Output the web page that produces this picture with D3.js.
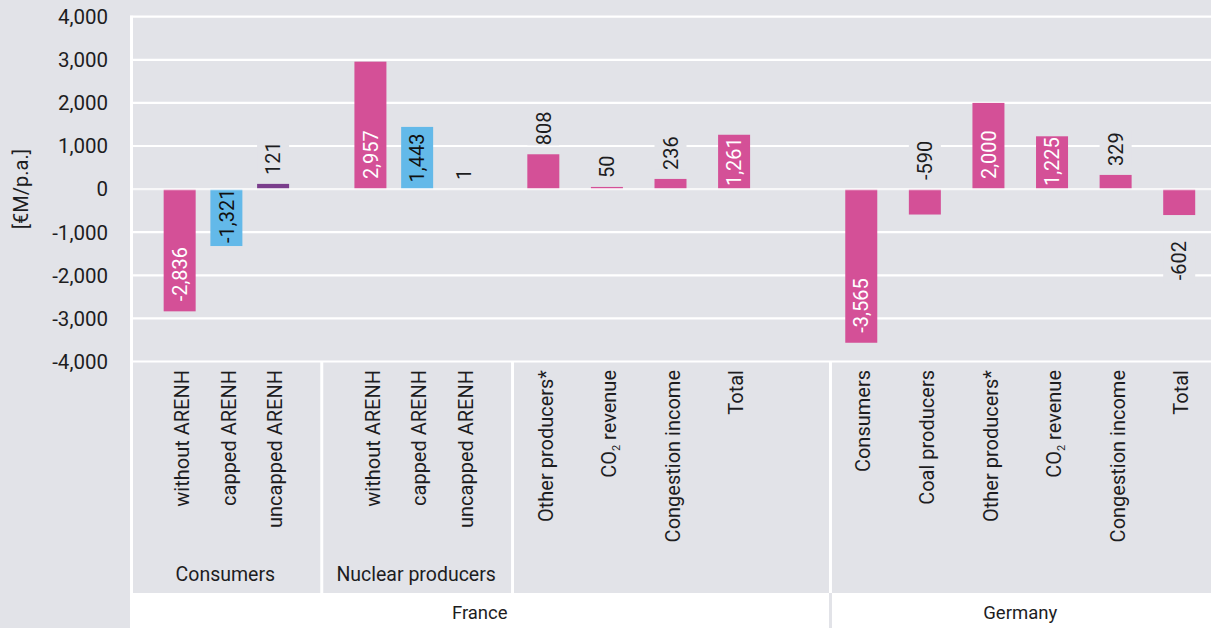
<!DOCTYPE html>
<html>
<head>
<meta charset="utf-8">
<script src="https://cdn.jsdelivr.net/npm/d3@7"></script>
<style>
  html, body { margin: 0; padding: 0; background: #e2e3e8; }
  svg { display: block; font-family: Roboto, "Noto Sans", sans-serif; }
  text { fill: #1d1d1f; }
</style>
</head>
<body>
<svg width="1211" height="628"></svg>
<script>
// Chart data
var countries = ["France", "France", "France", "France", "France", "France", "France", "France", "France", "France",
                 "Germany", "Germany", "Germany", "Germany", "Germany", "Germany"];
var groups = ["Consumers", "Consumers", "Consumers", "Nuclear producers", "Nuclear producers", "Nuclear producers",
              "", "", "", "", "", "", "", "", "", ""];
var categories = ["without ARENH", "capped ARENH", "uncapped ARENH",
                  "without ARENH", "capped ARENH", "uncapped ARENH",
                  "Other producers*", "CO2 revenue", "Congestion income", "Total",
                  "Consumers", "Coal producers", "Other producers*", "CO2 revenue", "Congestion income", "Total"];
var values = [-2836, -1321, 121, 2957, 1443, 1, 808, 50, 236, 1261, -3565, -590, 2000, 1225, 329, -602];
var yTicks = [-4000, -3000, -2000, -1000, 0, 1000, 2000, 3000, 4000];

// Styling per bar (colour kind and where the value label goes)
var kinds = ["plain", "capped", "uncapped", "plain", "capped", "uncapped",
             "plain", "plain", "plain", "plain", "plain", "plain", "plain", "plain", "plain", "plain"];
var labelPlace = ["inside", "inside", "above", "inside", "inside", "above",
                  "above", "above", "above", "inside", "inside", "above", "inside", "inside", "above", "below"];

var colors = { plain: "#d45097", capped: "#63b9e9", uncapped: "#7a3e8c" };
var inkOn = { plain: "#ffffff", capped: "#111111", uncapped: "#ffffff" };
var bg = "#e2e3e8";

var svg = d3.select("svg");
var left = 130, right = 1211, catBottom = 593, height = 628;

var fmt = d3.formatLocale({ decimal: ".", thousands: ",", grouping: [3], currency: ["", ""], minus: "-" }).format(",");

var y = d3.scaleLinear().domain([-4000, 4000]).range([361.5, 16.7]);

// Slots: one per bar, plus an empty slot closing the French block
var slots = [];
categories.forEach(function(c, i) {
  slots.push(i);
  if (i === 9) slots.push("gap");
});
var x = d3.scaleBand().domain(slots).range([left, right]);
var barW = 32;

// Sections (same country + group) for separators and inner spacing
var sections = [];
categories.forEach(function(c, i) {
  var key = countries[i] + "|" + (groups[i] || "other");
  var s = sections.find(function(d) { return d.key === key; });
  if (!s) { s = { key: key, country: countries[i], group: groups[i], idx: [] }; sections.push(s); }
  s.idx.push(i);
});
sections.forEach(function(s) {
  s.x0 = x(s.idx[0]);
  var lastSlot = slots.indexOf(s.idx[s.idx.length - 1]);
  var nextSlot = slots[lastSlot + 1];
  s.x1 = nextSlot === "gap" ? x("gap") + x.bandwidth() : x(s.idx[s.idx.length - 1]) + x.bandwidth();
  if (s.group) {
    s.inner = d3.scalePoint().domain(s.idx).range([s.x0 + 2, s.x1]).padding(1.02);
  }
});

function cx(i) {
  var s = sections.find(function(d) { return d.idx.indexOf(i) >= 0; });
  return s.inner ? s.inner(i) : x(i) + x.bandwidth() / 2;
}

// Country band at bottom
svg.append("rect")
  .attr("x", left).attr("y", catBottom)
  .attr("width", right - left).attr("height", height - catBottom)
  .attr("fill", "#ffffff");

// Grid lines
svg.append("g").selectAll("line")
  .data(yTicks.filter(function(d) { return d !== 0; }))
  .enter().append("line")
  .attr("x1", left).attr("x2", right)
  .attr("y1", function(d) { return y(d); })
  .attr("y2", function(d) { return y(d); })
  .attr("stroke", "#ffffff").attr("stroke-width", 2.2);

// Left border and section separators
svg.append("line")
  .attr("x1", left + 1.5).attr("x2", left + 1.5)
  .attr("y1", y(4000) - 1).attr("y2", catBottom)
  .attr("stroke", "#ffffff").attr("stroke-width", 3);

svg.append("g").selectAll("line")
  .data(sections.slice(1))
  .enter().append("line")
  .attr("x1", function(d) { return d.x0 + 1; })
  .attr("x2", function(d) { return d.x0 + 1; })
  .attr("y1", y(-4000)).attr("y2", catBottom)
  .attr("stroke", "#ffffff").attr("stroke-width", 3);

var germanyX = sections.find(function(d) { return d.country === "Germany"; }).x0;
svg.append("line")
  .attr("x1", germanyX + 1).attr("x2", germanyX + 1)
  .attr("y1", catBottom).attr("y2", height)
  .attr("stroke", bg).attr("stroke-width", 3);

// Y axis ticks
svg.append("g").selectAll("text")
  .data(yTicks)
  .enter().append("text")
  .attr("x", 108)
  .attr("y", function(d) { return y(d); })
  .attr("dy", "0.36em")
  .attr("text-anchor", "end")
  .style("font-size", "20.5px")
  .text(function(d) { return fmt(d); });

svg.append("text")
  .attr("transform", "translate(21," + ((y(4000) + y(-4000)) / 2) + ") rotate(-90)")
  .attr("dy", "0.35em")
  .attr("text-anchor", "middle")
  .style("font-size", "20px")
  .text("[€M/p.a.]");

// Bars
svg.append("g").selectAll("rect")
  .data(values)
  .enter().append("rect")
  .attr("x", function(d, i) { return cx(i) - barW / 2; })
  .attr("y", function(d) { return y(Math.max(d, 0)); })
  .attr("width", barW)
  .attr("height", function(d) { return Math.abs(y(d) - y(0)); })
  .attr("fill", function(d, i) { return colors[kinds[i]]; });

// Zero line sits on top of the bars
svg.append("line")
  .attr("x1", left).attr("x2", right)
  .attr("y1", y(0)).attr("y2", y(0))
  .attr("stroke", "#ffffff").attr("stroke-width", 2.2).attr("stroke-opacity", 0.75);

// Value labels
var labels = svg.append("g").selectAll("g")
  .data(values)
  .enter().append("g");

labels.each(function(v, i) {
  var g = d3.select(this);
  var place = labelPlace[i];
  var px = cx(i);
  var t = g.append("text")
    .attr("dy", "0.36em")
    .style("font-size", "20px")
    .style("fill", place === "inside" ? inkOn[kinds[i]] : "#1d1d1f")
    .text(fmt(v));
  var len = t.node().getComputedTextLength();
  var py, anchor;
  if (place === "inside") {
    // sit near the lower edge of the bar, but keep the text inside short bars
    var barLen = Math.abs(y(v) - y(0));
    var gap = Math.min(10, Math.max(3, (barLen - len) / 2));
    py = Math.max(y(v), y(0)) - gap; anchor = "start";
  } else if (place === "above") {
    py = y(Math.max(v, 0)) - 9; anchor = "start";
  } else {
    py = y(v) + 26; anchor = "end";
  }
  t.attr("transform", "translate(" + px + "," + py + ") rotate(-90)")
    .attr("text-anchor", anchor);
  if (place !== "inside") {
    var top = anchor === "start" ? py - len - 3 : py;
    g.insert("rect", "text")
      .attr("x", px - barW / 2).attr("y", top)
      .attr("width", barW).attr("height", len + 3)
      .attr("fill", bg);
  }
});

// Category labels
var cat = svg.append("g").selectAll("text")
  .data(categories)
  .enter().append("text")
  .attr("transform", function(d, i) { return "translate(" + (cx(i) + 2) + ",370) rotate(-90)"; })
  .attr("dy", "0.36em")
  .attr("text-anchor", "end")
  .style("font-size", "20px");

cat.each(function(d) {
  var t = d3.select(this);
  if (d.indexOf("CO2") === 0) {
    t.append("tspan").text("CO");
    t.append("tspan").text("2").attr("dy", 4).style("font-size", "11px");
    t.append("tspan").text(d.slice(3)).attr("dy", -4);
  } else {
    t.text(d);
  }
});

// Group labels
svg.append("g").selectAll("text")
  .data(sections.filter(function(d) { return d.group; }))
  .enter().append("text")
  .attr("x", function(d) { return (d.x0 + d.x1) / 2; })
  .attr("y", 574)
  .attr("dy", "0.36em")
  .attr("text-anchor", "middle")
  .style("font-size", "19.5px")
  .text(function(d) { return d.group; });

// Country labels
var countryNames = Array.from(new Set(countries));
svg.append("g").selectAll("text")
  .data(countryNames)
  .enter().append("text")
  .attr("x", function(c) {
    var s = sections.filter(function(d) { return d.country === c; });
    return (s[0].x0 + s[s.length - 1].x1) / 2;
  })
  .attr("y", 612)
  .attr("dy", "0.36em")
  .attr("text-anchor", "middle")
  .style("font-size", "18.5px")
  .text(function(c) { return c; });
</script>
</body>
</html>
